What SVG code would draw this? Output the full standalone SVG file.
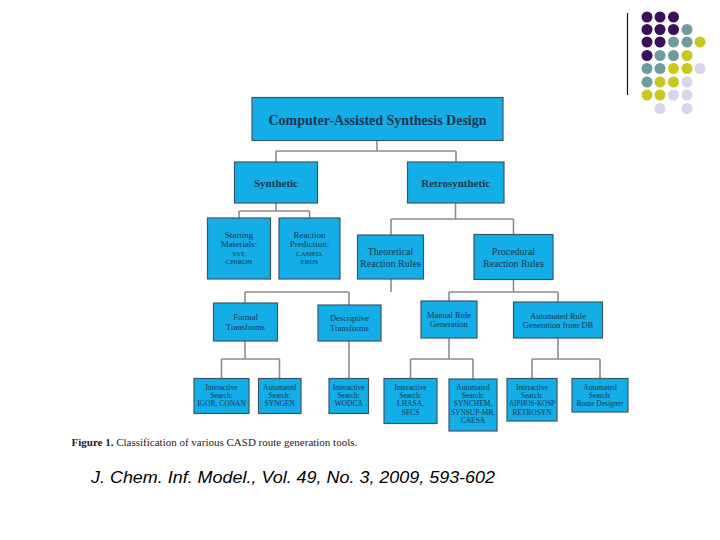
<svg xmlns="http://www.w3.org/2000/svg" width="720" height="540" viewBox="0 0 720 540">
<defs>
<style>
.box{fill:#13ADE8;stroke:#3c5566;stroke-width:1.2}
.conn{fill:none;stroke:#8c8c8c;stroke-width:1.6}
text{font-family:"Liberation Serif","Times New Roman",serif;fill:#17374f;text-anchor:middle}
.t1{font-size:14px;font-weight:bold}
.t2{font-size:11px;font-weight:bold}
.t3{font-size:9px}
.t3s{font-size:7px}
.t3b{font-size:10px}
.t4{font-size:8.5px}
.t5{font-size:7.5px}
.pu{fill:#3b0f5c}.te{fill:#6e9c9e}.ye{fill:#c9c81e}.la{fill:#d6d6ea}
</style>
</defs>
<rect width="720" height="540" fill="#ffffff"/>

<g id="decor">
<line x1="627.5" y1="13" x2="627.5" y2="95" stroke="#111" stroke-width="1.2"/>
<circle class="pu" cx="647" cy="17" r="5.5"/><circle class="pu" cx="660" cy="17" r="5.5"/><circle class="pu" cx="673.5" cy="17" r="5.5"/>
<circle class="pu" cx="647" cy="29.5" r="5.5"/><circle class="pu" cx="660" cy="29.5" r="5.5"/><circle class="pu" cx="673.5" cy="29.5" r="5.5"/><circle class="te" cx="687" cy="29.5" r="5.5"/>
<circle class="pu" cx="647" cy="42" r="5.5"/><circle class="pu" cx="660" cy="42" r="5.5"/><circle class="te" cx="673.5" cy="42" r="5.5"/><circle class="te" cx="687" cy="42" r="5.5"/><circle class="ye" cx="700" cy="42" r="5.5"/>
<circle class="pu" cx="647" cy="55.5" r="5.5"/><circle class="te" cx="660" cy="55.5" r="5.5"/><circle class="te" cx="673.5" cy="55.5" r="5.5"/><circle class="ye" cx="687" cy="55.5" r="5.5"/>
<circle class="te" cx="647" cy="68.5" r="5.5"/><circle class="te" cx="660" cy="68.5" r="5.5"/><circle class="ye" cx="673.5" cy="68.5" r="5.5"/><circle class="ye" cx="687" cy="68.5" r="5.5"/><circle class="la" cx="700" cy="68.5" r="5.5"/>
<circle class="te" cx="647" cy="82" r="5.5"/><circle class="ye" cx="660" cy="82" r="5.5"/><circle class="ye" cx="673.5" cy="82" r="5.5"/><circle class="la" cx="687" cy="82" r="5.5"/>
<circle class="ye" cx="647" cy="95" r="5.5"/><circle class="ye" cx="660" cy="95" r="5.5"/><circle class="la" cx="673.5" cy="95" r="5.5"/><circle class="la" cx="687" cy="95" r="5.5"/>
<circle class="la" cx="660" cy="108.5" r="5.5"/><circle class="la" cx="687" cy="108.5" r="5.5"/>
</g>

<g id="connectors">
<path class="conn" d="M377,141 V151 M276,151 H456 M276,151 V162 M456,151 V162"/>
<path class="conn" d="M276,203 V211 M239,211 H309.5 M239,211 V218 M309.5,211 V218"/>
<path class="conn" d="M455.5,203 V219 M391,219 H513.5 M391,219 V235 M513.5,219 V234.5"/>
<path class="conn" d="M391,279 V292 M245,292 H349 M245,292 V303 M349,292 V305"/>
<path class="conn" d="M513.5,279.5 V292 M449,292 H558 M449,292 V301 M558,292 V302"/>
<path class="conn" d="M245,341 V359 M221.5,359 H279.5 M221.5,359 V378 M279.5,359 V378"/>
<path class="conn" d="M349,341 V378"/>
<path class="conn" d="M449,338 V359 M410.5,359 H473 M410.5,359 V378 M473,359 V379"/>
<path class="conn" d="M558,338 V359 M532,359 H600 M532,359 V378 M600,359 V378"/>
</g>

<g id="casd"><rect class="box" x="252" y="97.5" width="251" height="43"/><text class="t1" x="377.5" y="124.5">Computer-Assisted Synthesis Design</text></g>
<g id="synthetic"><rect class="box" x="234.5" y="162" width="83" height="41"/><text class="t2" x="276" y="186.5">Synthetic</text></g>
<g id="retrosynthetic"><rect class="box" x="407.5" y="162" width="96.5" height="41"/><text class="t2" x="455.7" y="186.5">Retrosynthetic</text></g>

<g id="starting"><rect class="box" x="207.5" y="218" width="63" height="61"/>
<text class="t3" x="239" y="237.5">Starting</text><text class="t3" x="239" y="246.5">Materials:</text>
<text class="t3s" x="239" y="255.8">SST,</text><text class="t3s" x="239" y="264.2">CHIRON</text></g>
<g id="prediction"><rect class="box" x="279" y="218" width="61" height="61"/>
<text class="t3" x="309.5" y="237.5">Reaction</text><text class="t3" x="309.5" y="246.5">Prediction:</text>
<text class="t3s" x="309.5" y="255.8">CAMEO,</text><text class="t3s" x="309.5" y="264.2">EROS</text></g>

<g id="theoretical"><rect class="box" x="357.5" y="235" width="66" height="44"/>
<text class="t3b" x="390.5" y="255.2">Theoretical</text><text class="t3b" x="390.5" y="266.8">Reaction Rules</text></g>
<g id="procedural"><rect class="box" x="474" y="234.5" width="79" height="45"/>
<text class="t3b" x="513.5" y="255.2">Procedural</text><text class="t3b" x="513.5" y="266.8">Reaction Rules</text></g>

<g id="formal"><rect class="box" x="213.5" y="303" width="64" height="38"/>
<text class="t4" x="245.5" y="319.7">Formal</text><text class="t4" x="245.5" y="329.7">Transforms</text></g>
<g id="descriptive"><rect class="box" x="318" y="305" width="63" height="36"/>
<text class="t4" x="349.5" y="321.3">Descriptive</text><text class="t4" x="349.5" y="331.3">Transforms</text></g>
<g id="manual"><rect class="box" x="421" y="301" width="56" height="37"/>
<text class="t4" x="449" y="318">Manual Rule</text><text class="t4" x="449" y="327.3">Generation</text></g>
<g id="automated"><rect class="box" x="513.5" y="302" width="89" height="36"/>
<text class="t4" x="558" y="319">Automated Rule</text><text class="t4" x="558" y="328">Generation from DB</text></g>

<g id="b1"><rect class="box" x="194" y="378.5" width="55" height="35"/>
<text class="t5" x="221.5" y="389.6">Interactive</text><text class="t5" x="221.5" y="397.9">Search:</text><text class="t5" x="221.5" y="406.2">IGOR, CONAN</text></g>
<g id="b2"><rect class="box" x="258.5" y="378.5" width="42.5" height="35"/>
<text class="t5" x="279.7" y="389.6">Automated</text><text class="t5" x="279.7" y="397.9">Search:</text><text class="t5" x="279.7" y="406.2">SYNGEN</text></g>
<g id="b3"><rect class="box" x="329" y="378.5" width="39.5" height="35"/>
<text class="t5" x="348.7" y="389.6">Interactive</text><text class="t5" x="348.7" y="397.9">Search:</text><text class="t5" x="348.7" y="406.2">WODCA</text></g>
<g id="b4"><rect class="box" x="384" y="378.5" width="53" height="45"/>
<text class="t5" x="410.5" y="389.6">Interactive</text><text class="t5" x="410.5" y="397.9">Search:</text><text class="t5" x="410.5" y="406.2">LHASA,</text><text class="t5" x="410.5" y="414.6">SECS</text></g>
<g id="b5"><rect class="box" x="449" y="379" width="48" height="52"/>
<text class="t5" x="473" y="389.6">Automated</text><text class="t5" x="473" y="397.9">Search:</text><text class="t5" x="473" y="406.2">SYNCHEM,</text><text class="t5" x="473" y="414.6" textLength="44" lengthAdjust="spacingAndGlyphs">SYNSUP-MB,</text><text class="t5" x="473" y="422.9">CAESA</text></g>
<g id="b6"><rect class="box" x="507" y="378.5" width="50" height="42.5"/>
<text class="t5" x="532" y="389.6">Interactive</text><text class="t5" x="532" y="397.9">Search:</text><text class="t5" x="532" y="406.2" textLength="46" lengthAdjust="spacingAndGlyphs">AIPHOS-KOSP</text><text class="t5" x="532" y="414.6">RETROSYN</text></g>
<g id="b7"><rect class="box" x="572" y="378.5" width="56" height="33.5"/>
<text class="t5" x="600" y="389.6">Automated</text><text class="t5" x="600" y="397.9">Search:</text><text class="t5" x="600" y="406.2">Route Designer</text></g>

<g id="caption">
<text x="71.5" y="446" style="text-anchor:start;font-size:11px;fill:#222"><tspan font-weight="bold">Figure 1.</tspan> Classification of various CASD route generation tools.</text>
<text x="91" y="483" style="text-anchor:start;font-family:'Liberation Sans',Arial,sans-serif;font-style:italic;font-size:17px;fill:#000" textLength="404" lengthAdjust="spacingAndGlyphs">J. Chem. Inf. Model., Vol. 49, No. 3, 2009, 593-602</text>
</g>
</svg>
